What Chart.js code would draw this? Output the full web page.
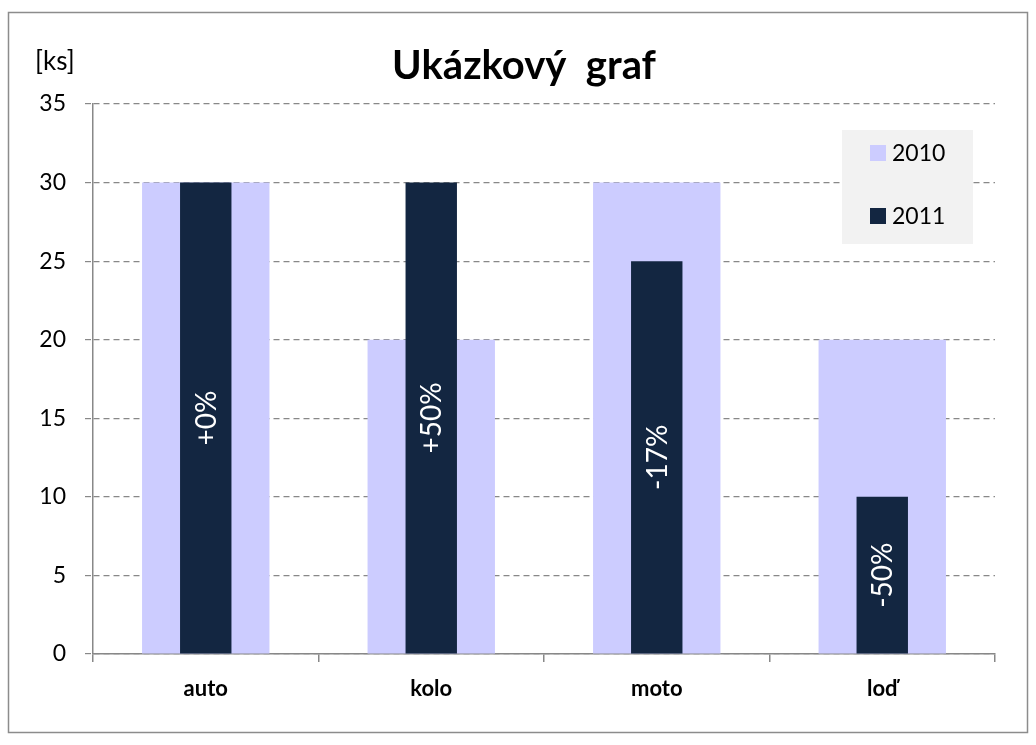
<!DOCTYPE html>
<html><head><meta charset="utf-8">
<script src="https://cdn.jsdelivr.net/npm/chart.js@4/dist/chart.umd.min.js"></script>
<style>html,body{margin:0;padding:0;background:#fff}#wrap{width:1036px;height:745px;position:relative}</style>
</head><body><div id="wrap"><canvas id="c" width="1036" height="745"></canvas></div>
<script>
const categories = ['auto', 'kolo', 'moto', 'loď'];
const series2010 = [30, 20, 30, 20];
const series2011 = [30, 30, 25, 10];
const changeLabels = ['+0%', '+50%', '-17%', '-50%'];
const yTicks = [0, 5, 10, 15, 20, 25, 30, 35];
const FONT = 'Lato, "Open Sans", sans-serif';

const decor = {
  id: 'decor',
  beforeDraw(chart) {
    const ctx = chart.ctx;
    ctx.save();
    ctx.fillStyle = '#fff';
    ctx.fillRect(0, 0, chart.width, chart.height);
    ctx.strokeStyle = '#8c8c8c';
    ctx.lineWidth = 1.5;
    ctx.strokeRect(8.5, 12.5, 1019, 720);
    ctx.fillStyle = '#000';
    ctx.textBaseline = 'middle';
    ctx.textAlign = 'center';
    ctx.font = 'bold 40px ' + FONT;
    ctx.fillText('Ukázkový  graf', 524, 66);
    ctx.textAlign = 'left';
    ctx.font = '26px ' + FONT;
    ctx.fillText('[ks]', 35, 62);
    ctx.restore();
  },
  afterDatasetsDraw(chart) {
    const ctx = chart.ctx;
    const meta = chart.getDatasetMeta(1);
    ctx.save();
    ctx.fillStyle = '#fff';
    ctx.font = '28px ' + FONT;
    ctx.textAlign = 'center';
    ctx.textBaseline = 'middle';
    meta.data.forEach((bar, i) => {
      const cy = (bar.y + bar.base) / 2;
      ctx.save();
      ctx.translate(bar.x + 1, cy);
      ctx.rotate(-Math.PI / 2);
      ctx.fillText(changeLabels[i], 0, 0);
      ctx.restore();
    });
    // legend
    const lx = 842, ly = 130, lw = 131, lh = 114;
    ctx.fillStyle = '#f2f2f2';
    ctx.fillRect(lx, ly, lw, lh);
    const items = [chart.data.datasets[0], chart.data.datasets[1]];
    ctx.font = '23px ' + FONT;
    ctx.textAlign = 'left';
    items.forEach((ds, i) => {
      const y = 153 + i * 63;
      ctx.fillStyle = ds.backgroundColor;
      ctx.fillRect(870, y - 8, 16, 16);
      ctx.fillStyle = '#000';
      ctx.fillText(ds.label, 892, y + 1);
    });
    ctx.restore();
  }
};

new Chart(document.getElementById('c'), {
  type: 'bar',
  data: {
    labels: categories,
    datasets: [
      { label: '2010', data: series2010, backgroundColor: '#ccccff', grouped: false, barPercentage: 1, categoryPercentage: 0.565, order: 2 },
      { label: '2011', data: series2011, backgroundColor: '#132641', grouped: false, barPercentage: 1, categoryPercentage: 0.228, order: 1 }
    ]
  },
  options: {
    responsive: false,
    animation: false,
    events: [],
    layout: { padding: { left: 0, top: 104, right: 41, bottom: 0 } },
    plugins: { legend: { display: false }, tooltip: { enabled: false } },
    scales: {
      x: {
        offset: true,
        grid: { offset: true, drawOnChartArea: false, drawTicks: true, tickLength: 8, color: '#888', lineWidth: 1.5 },
        border: { color: '#888', width: 1.5 },
        ticks: { color: '#000', font: { family: FONT, size: 22, weight: 'bold' }, padding: 14 },
        afterFit: s => { s.height = 91; }
      },
      y: {
        min: 0, max: 35,
        afterBuildTicks: s => { s.ticks = yTicks.map(v => ({ value: v })); },
        grid: { color: '#888', lineWidth: 1.2, tickLength: 8, tickBorderDash: [6, 4], tickColor: '#888' },
        border: { color: '#888', width: 1.5, dash: [6, 4] },
        ticks: { color: '#000', font: { family: FONT, size: 23 }, padding: 19 },
        afterFit: s => { s.width = 93; }
      }
    }
  },
  plugins: [decor]
});
</script>
</body></html>
